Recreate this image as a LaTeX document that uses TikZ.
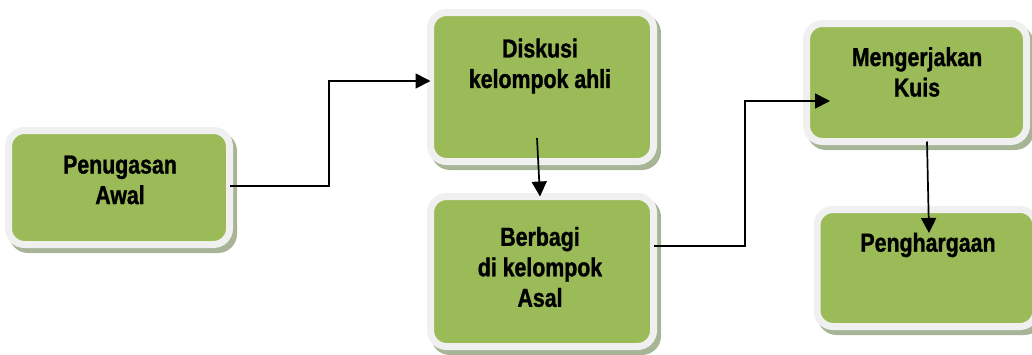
\documentclass[tikz,border=0pt]{standalone}
\usepackage{fontspec}
\setmainfont{Liberation Sans}[FakeStretch=0.82]
\newfontfamily\boxfont{Liberation Sans Bold}[FakeStretch=0.82,FakeBold=1.2]
\usetikzlibrary{arrows.meta,backgrounds,calc}
\definecolor{boxgreen}{HTML}{9BBB59}
\definecolor{boxrim}{HTML}{F0F0F0}
\definecolor{boxshade}{HTML}{A7B596}
\tikzset{
 box/.style={draw=boxrim, fill=boxgreen, line width=7pt, rounded corners=16pt, outer sep=0pt, inner sep=0pt},
 lbl/.style={font=\boxfont\fontsize{26}{30.5}\selectfont, align=center, inner sep=0pt},
 arr/.style={draw=black, line width=1.7pt, -{Triangle[length=15pt,width=15pt]}},
}
\begin{document}
\begin{tikzpicture}[x=1pt,y=-1pt]
\useasboundingbox (0,0) rectangle (1032,354);
\node[box, minimum width=221pt, minimum height=114pt] (pa) at (119,187.5) {};
\node[box, minimum width=223pt, minimum height=149pt] (dk) at (542,87) {};
\node[box, minimum width=223pt, minimum height=150pt] (bb) at (542,271.5) {};
\node[box, minimum width=220pt, minimum height=118pt] (mk) at (916.5,82.5) {};
\node[box, minimum width=219pt, minimum height=117pt] (ph) at (926.5,268) {};
\begin{scope}[on background layer]
\foreach \n in {pa,dk,bb,mk,ph}
  \fill[boxshade, rounded corners=19pt] ($(\n.north west)+(0.5,1.5)$) rectangle ($(\n.south east)+(7.5,8.5)$);
\end{scope}
\node[lbl] (pa-t) at (120,180) {Penugasan\\Awal};
\node[lbl] (dk-t) at (540,66) {Diskusi\\kelompok ahli};
\node[lbl] (bb-t) at (540,267) {Berbagi\\di kelompok\\Asal};
\node[lbl] (mk-t) at (917,72) {Mengerjakan\\Kuis};
\node[lbl] (ph-t) at (928,245) {Penghargaan};
\draw[arr] ([yshift=1.5pt]pa.east) -- ++(99.5,0) |- ([yshift=6pt]dk.west);
\draw[arr] ([shift={(-5pt,23.5pt)}]dk.south) -- ([xshift=-2pt]bb.north);
\draw[arr] ([yshift=25.5pt]bb.east) -- ++(91.5,0) |- ([shift={(23.5pt,-18.5pt)}]mk.west);
\draw[arr] ([shift={(10.5pt,0pt)}]mk.south) -- ([shift={(2.5pt,-23.5pt)}]ph.north);
\end{tikzpicture}
\end{document}
